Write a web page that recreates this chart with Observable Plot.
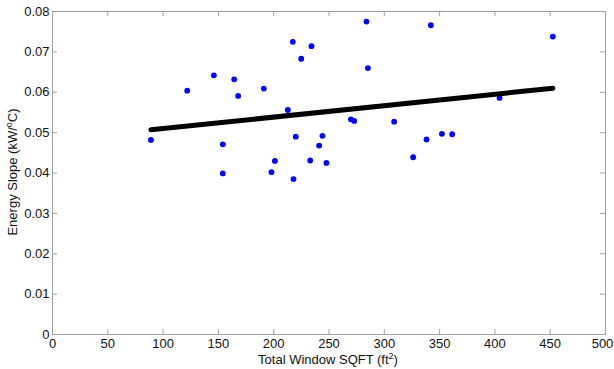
<!DOCTYPE html>
<html><head><meta charset="utf-8">
<script src="https://cdn.jsdelivr.net/npm/d3@7"></script>
<script src="https://cdn.jsdelivr.net/npm/@observablehq/plot@0.6"></script>
<style>body{margin:0;background:#fff} svg{display:block}</style>
</head><body><div id="chart"></div>
<script>
const windowSqft = [89.0, 121.8, 145.9, 154.0, 154.0, 164.3, 167.9, 191.1, 198.0, 201.1,
  212.8, 217.3, 217.9, 220.0, 224.9, 233.0, 234.2, 241.1, 244.1, 247.7,
  283.9, 285.2, 269.8, 272.8, 308.9, 326.1, 338.2, 342.1, 352.1, 361.4, 404.2, 452.4];
const energySlope = [0.0482, 0.0604, 0.0642, 0.0471, 0.0399, 0.0632, 0.0591, 0.0609, 0.0402, 0.0430,
  0.0556, 0.0725, 0.0385, 0.0490, 0.0683, 0.0431, 0.0714, 0.0468, 0.0492, 0.0425,
  0.0775, 0.0660, 0.0533, 0.0529, 0.0527, 0.0439, 0.0483, 0.0766, 0.0497, 0.0496, 0.0586, 0.0738];
const fitX = [89.0, 452.4];
const fitY = [0.0507, 0.0610];
const xTicks = [0, 50, 100, 150, 200, 250, 300, 350, 400, 450, 500];
const yTicks = [0, 0.01, 0.02, 0.03, 0.04, 0.05, 0.06, 0.07, 0.08];

const points = windowSqft.map((x, i) => ({x, y: energySlope[i]}));
const fit = fitX.map((x, i) => ({x, y: fitY[i]}));

const W = 614, H = 369, mL = 52, mR = 9, mT = 11, mB = 35;
const pw = W - mL - mR, ph = H - mT - mB, tk = 5;
const gray = "#a0a0a0";
const lastTick = xTicks[xTicks.length - 1];

const chart = Plot.plot({
  width: W, height: H,
  marginLeft: mL, marginRight: mR, marginTop: mT, marginBottom: mB,
  style: {fontFamily: "'Liberation Sans', Arial, sans-serif", fontSize: "13px", color: "#111", background: "#fff"},
  x: {domain: [0, 500]},
  y: {domain: [0, 0.08]},
  marks: [
    Plot.frame({stroke: gray}),
    Plot.tickX(xTicks, {x: d => d, insetTop: ph - tk, stroke: gray}),
    Plot.tickX(xTicks, {x: d => d, insetBottom: ph - tk, stroke: gray}),
    Plot.tickY(yTicks, {y: d => d, insetRight: pw - tk, stroke: gray}),
    Plot.tickY(yTicks, {y: d => d, insetLeft: pw - tk, stroke: gray}),
    Plot.axisX({ticks: xTicks.slice(0, -1), tickSize: 0, tickPadding: 4, label: null, tickFormat: d => String(d)}),
    Plot.axisX({ticks: [lastTick], tickSize: 0, tickPadding: 4, label: null, dx: -3, tickFormat: d => String(d)}),
    Plot.axisY({ticks: yTicks, tickSize: 0, tickPadding: 3, label: null, tickFormat: d => d === 0 ? "0" : d.toFixed(2)}),
    Plot.dot(points, {x: "x", y: "y", r: 2.9, fill: "#0000ff", stroke: "none"}),
    Plot.line(fit, {x: "x", y: "y", stroke: "#000", strokeWidth: 5})
  ]
});

const svg = d3.select(chart);
const xt = svg.append("text")
  .attr("x", 328).attr("y", 364)
  .attr("text-anchor", "middle")
  .attr("font-size", 13).attr("fill", "#111")
  .attr("font-family", "'Liberation Sans', Arial, sans-serif");
xt.append("tspan").text("Total Window SQFT (ft");
xt.append("tspan").attr("font-size", 9).attr("dy", -5).text("2");
xt.append("tspan").attr("dy", 5).text(")");

const yt = svg.append("text")
  .attr("transform", "translate(17,172) rotate(-90)")
  .attr("text-anchor", "middle")
  .attr("font-size", 13).attr("fill", "#111")
  .attr("font-family", "'Liberation Sans', Arial, sans-serif");
yt.append("tspan").text("Energy Slope (kW/");
yt.append("tspan").attr("font-size", 9).attr("dy", -5).text("o");
yt.append("tspan").attr("dy", 5).text("C)");

document.getElementById("chart").appendChild(chart);
</script>
</body></html>
